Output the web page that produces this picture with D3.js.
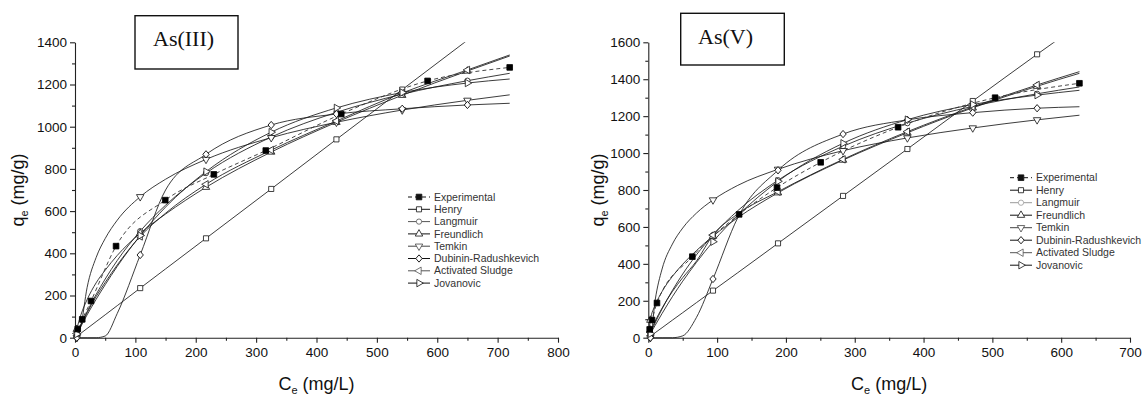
<!DOCTYPE html>
<html>
<head>
<meta charset="utf-8">
<script src="https://cdn.jsdelivr.net/npm/d3@7"></script>
<style>
body { margin: 0; background: #fff; }
svg { display: block; }
.tick text { font-family: 'Liberation Sans', Arial, sans-serif; font-size: 13.5px; fill: #111; }
</style>
</head>
<body>
<script>
const SERIES = ['Experimental', 'Henry', 'Langmuir', 'Freundlich', 'Temkin',
    'Dubinin-Radushkevich', 'Activated Sludge', 'Jovanovic'];

// As(III) panel
const EXP_CE_III = [4.5, 12, 26.5, 68, 149.5, 230, 316, 441, 584, 720];
const EXP_QE_III = [41, 87, 174, 434, 652, 774, 887, 1060, 1217, 1281];
const FIT_CE_III = [0, 3, 10, 20, 35, 50, 70, 108, 150, 217, 325, 433, 542, 650, 720];
const MARK_CE_III = [3, 108, 217, 325, 433, 542, 650];
const HENRY_III = [0, 6.5, 21.7, 43.4, 76, 108.5, 152, 235, 326, 471, 705, 940, 1176, 1410, 1562];
const LANGMUIR_III = [0, 20, 64, 123, 205, 278, 366, 505, 628, 780, 951, 1068, 1154, 1218, 1253];
const FREUNDLICH_III = [0, 40, 110, 180, 260, 320, 390, 495, 586, 713, 880, 1021, 1149, 1264, 1335];
const TEMKIN_III = [0, 0, 60, 237, 380, 470, 557, 668, 751, 845, 948, 1021, 1079, 1125, 1151];
const DR_III = [0, 0, 0, 0, 0, 8, 115, 392, 700, 869, 1008, 1060, 1085, 1103, 1111];
const SLUDGE_III = [0, 20, 62, 118, 195, 262, 345, 480, 590, 727, 889, 1027, 1160, 1269, 1340];
const JOVANOVIC_III = [0, 17, 55, 108, 182, 251, 338, 484, 619, 787, 974, 1089, 1162, 1207, 1226];
const X_TICKS_III = [0, 100, 200, 300, 400, 500, 600, 700, 800];
const Y_TICKS_III = [0, 200, 400, 600, 800, 1000, 1200, 1400];

// As(V) panel
const EXP_CE_V = [2, 5.4, 12.6, 64, 132, 187, 250.5, 363, 504, 626.5];
const EXP_QE_V = [45, 96, 188, 439, 668, 813, 950, 1140, 1300, 1378];
const FIT_CE_V = [0, 3, 10, 20, 35, 50, 70, 94, 130, 188.5, 283, 376.5, 471.5, 565, 626.5];
const MARK_CE_V = [3, 94, 188.5, 283, 376.5, 471.5, 565];
const HENRY_V = [0, 8, 27, 54, 95, 135.5, 190, 255, 352, 511, 768, 1022, 1282, 1535, 1698];
const LANGMUIR_V = [0, 25, 81, 156, 256, 345, 449, 556, 688, 853, 1037, 1162, 1253, 1321, 1358];
const FREUNDLICH_V = [0, 95, 175, 250, 332, 398, 472, 550, 650, 785, 962, 1110, 1245, 1362, 1432];
const TEMKIN_V = [0, 0, 204, 372, 507, 594, 675, 746, 825, 912, 1013, 1082, 1136, 1180, 1205];
const DR_V = [0, 0, 0, 0, 0, 10, 110, 318, 650, 907, 1103, 1180, 1219, 1243, 1251];
const SLUDGE_V = [0, 30, 90, 160, 250, 325, 415, 556, 670, 791, 966, 1116, 1250, 1369, 1441];
const JOVANOVIC_V = [0, 21, 67, 131, 222, 306, 408, 520, 662, 847, 1053, 1181, 1263, 1314, 1340];
const X_TICKS_V = [0, 100, 200, 300, 400, 500, 600, 700];
const Y_TICKS_V = [0, 200, 400, 600, 800, 1000, 1200, 1400, 1600];

// marker shapes, same order as SERIES
const SHAPES = [
    { type: d3.symbolSquare, size: 32, tf: '' },
    { type: d3.symbolSquare, size: 26, tf: '' },
    { type: d3.symbolCircle, size: 22, tf: '' },
    { type: d3.symbolTriangle, size: 24, tf: '' },
    { type: d3.symbolTriangle, size: 24, tf: 'rotate(180)' },
    { type: d3.symbolSquare, size: 20, tf: 'scale(1,1.15) rotate(45)' },
    { type: d3.symbolTriangle, size: 24, tf: 'rotate(-90)' },
    { type: d3.symbolTriangle, size: 24, tf: 'rotate(90)' }
];

const PANELS = [
    {
        id: 'iii', title: 'As(III)',
        left: 75, right: 558, top: 42.3, bottom: 337.7, xMax: 800, yMax: 1400,
        xTicks: X_TICKS_III, yTicks: Y_TICKS_III,
        expCe: EXP_CE_III, expQe: EXP_QE_III, fitCe: FIT_CE_III, markCe: MARK_CE_III,
        fits: [HENRY_III, LANGMUIR_III, FREUNDLICH_III, TEMKIN_III, DR_III, SLUDGE_III, JOVANOVIC_III],
        colors: ['#111', '#111', '#555', '#111', '#444', '#111', '#555', '#111'],
        box: { x: 135, y: 15.7, w: 103, h: 53.3, tx: 153, ty: 45.5 },
        legend: { x: 408, y: 197, step: 12.3 },
        yTitleX: 24
    },
    {
        id: 'v', title: 'As(V)',
        left: 648.3, right: 1130, top: 42.3, bottom: 337.7, xMax: 700, yMax: 1600,
        xTicks: X_TICKS_V, yTicks: Y_TICKS_V,
        expCe: EXP_CE_V, expQe: EXP_QE_V, fitCe: FIT_CE_V, markCe: MARK_CE_V,
        fits: [HENRY_V, LANGMUIR_V, FREUNDLICH_V, TEMKIN_V, DR_V, SLUDGE_V, JOVANOVIC_V],
        colors: ['#111', '#111', '#9a9a9a', '#111', '#444', '#111', '#555', '#111'],
        box: { x: 680.7, y: 13.3, w: 103.6, h: 51.7, tx: 698, ty: 43.5 },
        legend: { x: 1010, y: 177.7, step: 12.5 },
        yTitleX: 604
    }
];

const FONT = "'Liberation Sans', Arial, sans-serif";

var svg = d3.select('body')
    .append('svg')
    .attr('width', 1143)
    .attr('height', 396);

function symbolPath(i) {
    return d3.symbol().type(SHAPES[i].type).size(SHAPES[i].size)();
}

function drawMarker(g, i, px, py, color) {
    g.append('path')
        .attr('d', symbolPath(i))
        .attr('transform', `translate(${px},${py}) ${SHAPES[i].tf}`)
        .attr('fill', i === 0 ? color : '#fff')
        .attr('stroke', color)
        .attr('stroke-width', 0.8);
}

function drawPanel(p) {
    const x = d3.scaleLinear().domain([0, p.xMax]).range([p.left, p.right]);
    const y = d3.scaleLinear().domain([0, p.yMax]).range([p.bottom, p.top]);
    const g = svg.append('g');
    const fmt = d3.format('d');

    svg.append('clipPath').attr('id', 'clip-' + p.id)
        .append('rect')
        .attr('x', p.left).attr('y', p.top)
        .attr('width', p.right - p.left).attr('height', p.bottom - p.top + 2);

    // axes: major + minor ticks
    const xMinor = d3.range(50, p.xMax, 100);
    const yMinor = d3.range(100, p.yMax, 200);
    g.append('g').attr('transform', `translate(0,${p.bottom})`)
        .call(d3.axisBottom(x).tickValues(p.xTicks).tickFormat(fmt)
            .tickSize(5).tickSizeOuter(0).tickPadding(5));
    g.append('g').attr('transform', `translate(0,${p.bottom})`)
        .call(d3.axisBottom(x).tickValues(xMinor).tickSize(3).tickFormat(''))
        .select('.domain').remove();
    g.append('g').attr('transform', `translate(${p.left},0)`)
        .call(d3.axisLeft(y).tickValues(p.yTicks).tickFormat(fmt)
            .tickSize(5).tickSizeOuter(0).tickPadding(3));
    g.append('g').attr('transform', `translate(${p.left},0)`)
        .call(d3.axisLeft(y).tickValues(yMinor).tickSize(3).tickFormat(''))
        .select('.domain').remove();
    g.selectAll('.domain, .tick line').attr('stroke', '#222').attr('stroke-width', 1.1);

    // fitted models
    const line = d3.line()
        .x(d => x(d[0]))
        .y(d => y(d[1]))
        .curve(d3.curveMonotoneX);
    const plot = g.append('g').attr('clip-path', `url(#clip-${p.id})`);
    const marks = g.append('g');
    p.fits.forEach(function(vals, k) {
        const i = k + 1;
        const pts = p.fitCe.map((c, j) => [c, vals[j]]);
        plot.append('path')
            .attr('d', line(pts))
            .attr('fill', 'none')
            .attr('stroke', '#1a1a1a')
            .attr('stroke-width', 0.85);
        pts.filter(d => p.markCe.includes(d[0]) && d[1] <= p.yMax)
            .forEach(d => drawMarker(marks, i, x(d[0]), y(d[1]), '#111'));
    });

    // experimental data
    const exp = p.expCe.map((c, j) => [c, p.expQe[j]]);
    plot.append('path')
        .attr('d', line(exp))
        .attr('fill', 'none')
        .attr('stroke', '#333')
        .attr('stroke-width', 0.9)
        .attr('stroke-dasharray', '4,3');
    exp.forEach(d => drawMarker(marks, 0, x(d[0]), y(d[1]), '#000'));

    // axis titles
    const xt = g.append('text')
        .attr('x', (p.left + p.right) / 2).attr('y', 390)
        .attr('text-anchor', 'middle')
        .style('font-family', FONT).style('font-size', '18px').attr('fill', '#111');
    xt.append('tspan').text('C');
    xt.append('tspan').text('e').attr('dy', 4).style('font-size', '11px');
    xt.append('tspan').text(' (mg/L)').attr('dy', -4);

    const yt = g.append('text')
        .attr('transform', `translate(${p.yTitleX},${(p.top + p.bottom) / 2}) rotate(-90)`)
        .attr('text-anchor', 'middle')
        .style('font-family', FONT).style('font-size', '18px').attr('fill', '#111');
    yt.append('tspan').text('q');
    yt.append('tspan').text('e').attr('dy', 4).style('font-size', '11px');
    yt.append('tspan').text(' (mg/g)').attr('dy', -4);

    // title box
    g.append('rect')
        .attr('x', p.box.x).attr('y', p.box.y)
        .attr('width', p.box.w).attr('height', p.box.h)
        .attr('fill', '#fff').attr('stroke', '#111').attr('stroke-width', 1.4);
    g.append('text')
        .attr('x', p.box.tx).attr('y', p.box.ty)
        .style('font-family', "'Liberation Serif', 'Times New Roman', serif")
        .style('font-size', '22px').attr('fill', '#111')
        .text(p.title);

    // legend
    const lg = g.append('g');
    SERIES.forEach(function(name, i) {
        const ly = p.legend.y + i * p.legend.step;
        lg.append('line')
            .attr('x1', p.legend.x).attr('x2', p.legend.x + 22)
            .attr('y1', ly).attr('y2', ly)
            .attr('stroke', p.colors[i]).attr('stroke-width', 1)
            .attr('stroke-dasharray', i === 0 ? '4,3' : null);
        drawMarker(lg, i, p.legend.x + 11, ly, p.colors[i]);
        lg.append('text')
            .attr('x', p.legend.x + 26).attr('y', ly).attr('dy', '0.35em')
            .style('font-family', FONT).style('font-size', '10.5px').attr('fill', '#333')
            .text(name);
    });
}

PANELS.forEach(drawPanel);
</script>
</body>
</html>
